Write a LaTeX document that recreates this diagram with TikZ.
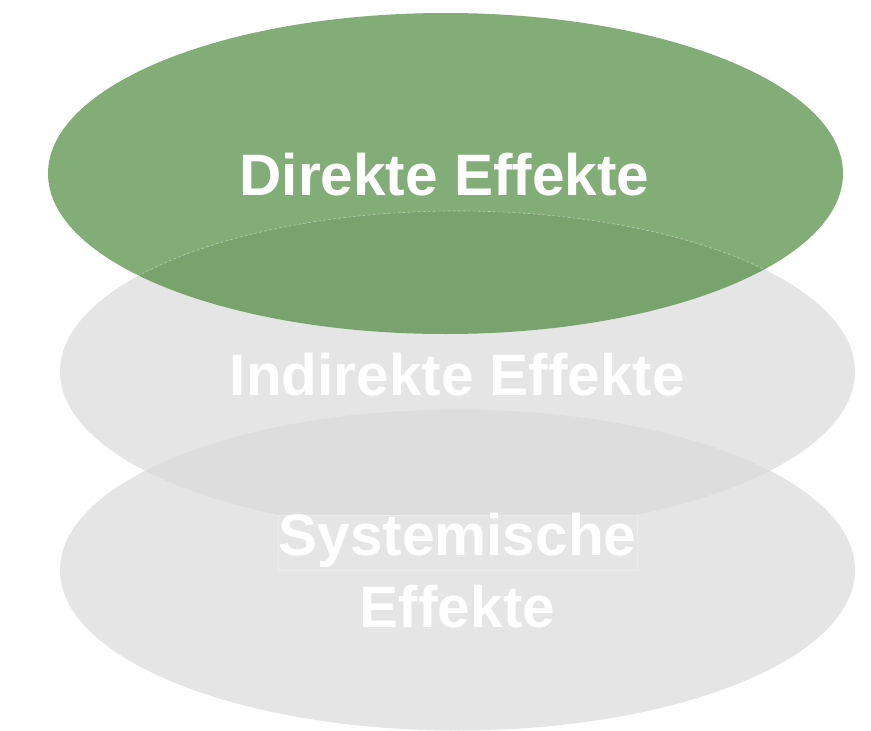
\documentclass[tikz,border=0pt]{standalone}
\usepackage{fontspec}
\setmainfont{Liberation Sans}
\usetikzlibrary{shapes.geometric}

\definecolor{effgreen}{RGB}{57,125,38}
\definecolor{effgray}{RGB}{218,218,218}

\begin{document}
\begin{tikzpicture}[
  x=1pt,y=-1pt,
  disc/.style={ellipse,inner sep=0pt,minimum width=795pt,minimum height=321pt},
  lbl/.style={text=white,font=\fontsize{58.5}{72}\selectfont\bfseries,align=center,inner sep=0pt},
  rim/.style={draw=white,draw opacity=0.45,line width=0.6pt,dash pattern=on 3pt off 2pt}
]
\useasboundingbox (0,0) rectangle (871,731);

% three stacked layers
\node[disc,fill=effgray,fill opacity=0.7] (sys) at (457.5,570) {};
\node[disc,fill=effgray,fill opacity=0.7] (indir) at (457.5,371.5) {};
\node[disc,fill=effgreen,fill opacity=0.63] (dir) at (445.5,173.5) {};

% thin rim of the middle layer under the green one
\begin{scope}
  \clip (dir.center) ellipse [x radius=397.5, y radius=160.5];
  \draw[rim] (indir.center) ellipse [x radius=397.5, y radius=160.5];
\end{scope}

% labels
\node[lbl,anchor=base] (tdir) at (444.5,195) {Direkte Effekte};
\node[lbl,anchor=base] (tindir) at (457.5,395) {Indirekte Effekte};
\node[fill=effgray!70!white,draw=white,draw opacity=0.25,line width=0.4pt,
      minimum width=359pt,minimum height=55pt,inner sep=0pt] (sysbox) at (457.5,542.5) {};
\node[lbl,anchor=base] (tsys) at (457.5,555) {Systemische};
\node[lbl,anchor=base] (teff) at (457.5,627) {Effekte};
\end{tikzpicture}
\end{document}
